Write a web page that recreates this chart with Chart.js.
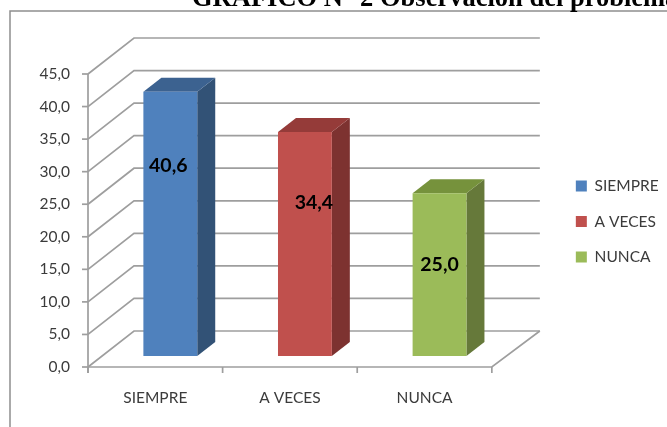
<!DOCTYPE html>
<html><head><meta charset="utf-8">
<style>html,body{margin:0;padding:0;background:#fff;overflow:hidden}#w{position:relative;width:667px;height:427px}canvas{display:block}</style>
<script src="https://cdn.jsdelivr.net/npm/chart.js@4/dist/chart.umd.min.js"></script>
</head><body><div id="w"><canvas id="c" width="667" height="427"></canvas></div>
<script>
const titleText = 'GRÁFICO N° 2 Observación del problema';
const categories = ['SIEMPRE', 'A VECES', 'NUNCA'];
const seriesNames = ['SIEMPRE', 'A VECES', 'NUNCA'];
const siempre = [40.6, null, null];
const aVeces = [null, 34.4, null];
const nunca = [null, null, 25.0];
const yTicks = [0, 5, 10, 15, 20, 25, 30, 35, 40, 45];
const frontColors = ['#4F81BD', '#C0504D', '#9BBB59'];
const topColors = ['#3C6290', '#953B39', '#76923C'];
const sideColors = ['#325276', '#7D3230', '#66793A'];
const labelAnchorValues = [29.2, 23.5, 14.0];
const labelNudge = [-2, 9, 0];

const GRID = '#9E9E9E';
const TEXT = '#3b3b3b';
const wall = {dx: 46, dy: -36};
const gap = {dx: 15, dy: -11};
const depth = {dx: 18, dy: -14};

const fmt = v => v.toFixed(1).replace('.', ',');

function spacerBox(position, size) {
  const vertical = position === 'left' || position === 'right';
  return {
    position, weight: -1, fullSize: false, width: vertical ? size : 0, height: vertical ? 0 : size,
    options: {},
    isHorizontal() { return !vertical; },
    update(w, h) {
      if (vertical) { this.width = size; this.height = h; }
      else { this.width = w; this.height = size; }
      return {w: this.width, h: this.height};
    },
    draw() {}
  };
}

const spacer = {
  id: 'spacer',
  beforeInit(chart) {
    Chart.layouts.addBox(chart, spacerBox('right', 64));
    Chart.layouts.addBox(chart, spacerBox('top', 58));
  }
};

const scene = {
  id: 'scene',
  beforeDraw(chart) {
    const c = chart.ctx;
    c.save();
    c.strokeStyle = '#8E8E8E'; c.lineWidth = 1.5;
    c.beginPath(); c.moveTo(10, 428); c.lineTo(10, 11); c.lineTo(668, 11); c.stroke();
    c.restore();
  },
  beforeDatasetsDraw(chart) {
    const c = chart.ctx, x = chart.scales.x, y = chart.scales.y;
    const l = x.left, r = x.right;
    c.save();
    c.strokeStyle = GRID; c.lineWidth = 1.7;
    yTicks.forEach(v => {
      const p = y.getPixelForValue(v);
      c.beginPath();
      c.moveTo(l, p);
      c.lineTo(l + wall.dx, p + wall.dy);
      c.lineTo(r + wall.dx + 2, p + wall.dy);
      c.stroke();
      c.beginPath(); c.moveTo(l - 6, p); c.lineTo(l, p); c.stroke();
    });
    const b = y.getPixelForValue(0);
    c.beginPath(); c.moveTo(l, y.getPixelForValue(45)); c.lineTo(l, b + 6); c.stroke();
    c.beginPath(); c.moveTo(l, b); c.lineTo(r, b); c.lineTo(r + wall.dx + 2, b + wall.dy); c.stroke();
    [0, 1, 2, 3].forEach(i => {
      const t = l + i * (r - l) / 3;
      c.beginPath(); c.moveTo(t, b); c.lineTo(t, b + 6); c.stroke();
    });
    c.restore();
    // the bars are set back from the front plane of the floor
    c.save();
    c.translate(gap.dx, gap.dy);
    chart.data.datasets.forEach((ds, i) => {
      const el = chart.getDatasetMeta(i).data[i];
      const hw = el.width / 2, L = el.x - hw, R = el.x + hw, T = el.y, B = el.base;
      c.fillStyle = sideColors[i];
      c.beginPath(); c.moveTo(R, T); c.lineTo(R + depth.dx, T + depth.dy); c.lineTo(R + depth.dx, B + depth.dy); c.lineTo(R, B); c.closePath(); c.fill();
      c.fillStyle = topColors[i];
      c.beginPath(); c.moveTo(L, T); c.lineTo(L + depth.dx, T + depth.dy); c.lineTo(R + depth.dx, T + depth.dy); c.lineTo(R, T); c.closePath(); c.fill();
    });
  },
  afterDatasetsDraw(chart) {
    const c = chart.ctx;
    c.restore();
    c.save();
    c.fillStyle = '#000'; c.font = 'bold 19.5px Lato'; c.textAlign = 'center'; c.textBaseline = 'middle';
    const vals = [siempre[0], aVeces[1], nunca[2]];
    vals.forEach((v, i) => {
      const el = chart.getDatasetMeta(i).data[i];
      c.fillText(fmt(v), el.x + gap.dx + labelNudge[i], chart.scales.y.getPixelForValue(labelAnchorValues[i]) + gap.dy);
    });
    c.fillStyle = '#000'; c.font = 'bold 26.5px "Liberation Serif"'; c.textAlign = 'left'; c.textBaseline = 'alphabetic';
    c.fillText(titleText, 192, 5.5);
    c.restore();
  }
};

new Chart(document.getElementById('c'), {
  type: 'bar',
  data: {
    labels: categories,
    datasets: [siempre, aVeces, nunca].map((d, i) => ({
      label: seriesNames[i], data: d,
      backgroundColor: frontColors[i], borderWidth: 0,
      barPercentage: 0.4, categoryPercentage: 1
    }))
  },
  plugins: [spacer, scene],
  options: {
    responsive: false, animation: false,
    layout: {padding: {left: 0, top: 16, right: 0, bottom: 0}},
    plugins: {
      title: {display: false},
      tooltip: {enabled: false},
      legend: {
        position: 'right', align: 'center',
        labels: {boxWidth: 11, boxHeight: 11, padding: 20, color: TEXT, font: {family: 'Lato', size: 15.5}}
      }
    },
    scales: {
      x: {
        stacked: true,
        grid: {display: false}, border: {display: false},
        ticks: {color: TEXT, font: {family: 'Lato', size: 15.5}, maxRotation: 0, padding: 14},
        afterFit(s) { s.height = 60; }
      },
      y: {
        stacked: true, min: 0, max: 45,
        afterBuildTicks(s) { s.ticks = yTicks.map(v => ({value: v})); },
        grid: {display: false}, border: {display: false},
        ticks: {color: TEXT, font: {family: 'Lato', size: 15.5}, padding: 10, callback: v => fmt(v)},
        afterFit(s) { s.width = 88; }
      }
    }
  }
});
</script></body></html>
